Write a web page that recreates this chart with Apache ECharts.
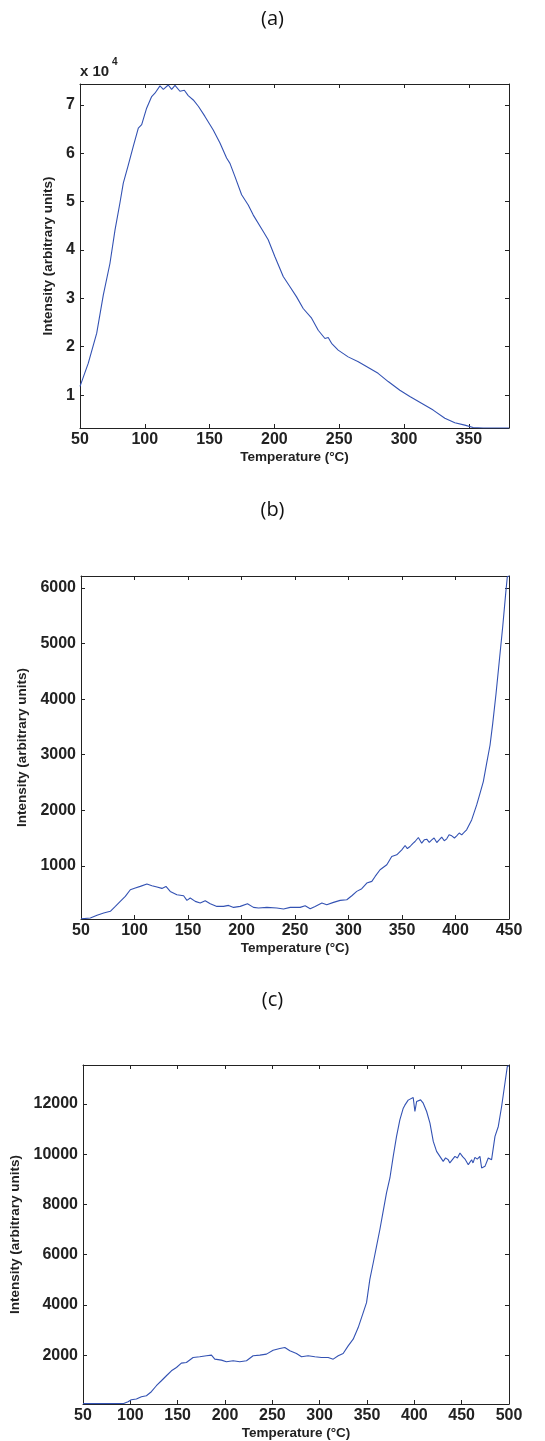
<!DOCTYPE html>
<html>
<head>
<meta charset="utf-8">
<script src="https://cdn.jsdelivr.net/npm/echarts@6/dist/echarts.min.js"></script>
<style>
html,body{margin:0;padding:0;background:#fff;}
#chart{width:545px;height:1441px;}
</style>
</head>
<body>
<div id="chart"></div>
<script>
// ---------- Panel (a) data (intensity in units of 10^4) ----------
const tempA = [50,51.3,56.4,62.9,68,73.1,77,80.8,83.4,87.3,91.1,95,97.6,101.4,105.3,107.8,111.7,114.3,118.1,120.7,123.3,127.1,130.5,133.5,137.4,141.3,146.4,152.8,158,163.1,165.7,169.5,174.7,179.8,183.7,191.4,195.2,200.4,206.8,212,217.1,222.2,228.7,233.8,239,241.5,244.1,249.2,256.9,264.7,273.7,280,287.8,296.8,304.5,313.5,322.5,331.5,339.2,346.9,353.3,361,370,381];
const intensityA = [1.18,1.21,1.66,2.28,3.07,3.72,4.41,4.97,5.38,5.76,6.14,6.52,6.59,6.93,7.17,7.24,7.39,7.32,7.41,7.32,7.40,7.28,7.30,7.19,7.10,6.97,6.76,6.48,6.21,5.90,5.79,5.52,5.14,4.93,4.72,4.38,4.21,3.86,3.45,3.24,3.03,2.79,2.59,2.34,2.17,2.19,2.07,1.93,1.79,1.69,1.55,1.45,1.28,1.10,0.97,0.83,0.69,0.52,0.43,0.38,0.33,0.32,0.32,0.32];
const xTicksA = [50,100,150,200,250,300,350];
const yTicksA = [1,2,3,4,5,6,7];

// ---------- Panel (b) data ----------
const tempB = [50,51,58.7,65,71.2,77.4,82.1,86.7,91.4,96.1,100.7,105.4,111.6,116.3,121,125.6,129.4,133.4,139.6,145.9,149,152.1,156.8,161.4,166.1,170.8,177,183.2,187.9,192.6,198.8,205.6,211.2,215.9,223.7,233,239.3,245.5,254.8,259.5,264.2,268.8,275.1,279.7,286,292.2,298.4,303.1,307.7,312.4,317.1,321.8,324.9,329.5,335.8,340.4,345.1,349.8,352.9,355,357.5,360,362.2,365.3,368.4,371,373.1,375.5,377.8,380,382.5,385,387.1,389.5,391.8,394,396.5,399,401.1,403.5,405.8,408,410.4,415.1,419.8,422.9,426,429.1,432.3,434.8,437.9,441,444.1,446.9,448.4,450];
const intensityB = [45,54,60,108,150,180,270,360,449,569,599,629,671,641,617,593,629,539,479,461,377,419,359,329,371,317,269,269,287,251,269,317,251,239,251,239,222,251,251,281,228,269,329,299,341,377,389,461,539,587,689,719,808,928,1018,1168,1198,1287,1365,1310,1347,1400,1437,1509,1407,1470,1479,1420,1467,1500,1419,1470,1515,1450,1485,1560,1539,1500,1539,1590,1557,1600,1647,1826,2096,2305,2515,2844,3174,3563,4102,4700,5299,5898,6198,6220];
const xTicksB = [50,100,150,200,250,300,350,400,450];
const yTicksB = [1000,2000,3000,4000,5000,6000];

// ---------- Panel (c) data ----------
const tempC = [50,70,93,94,97.6,101,106.4,111.7,117,122.2,127.5,132.8,138.1,143.4,148.7,153.9,159.2,166.3,173.3,180.4,185.7,189.2,196.2,201.5,208.6,215.6,222.7,229.7,236.8,243.8,250.8,257.9,263.2,268.5,275.5,280.8,287.8,294.9,301.9,309,314.3,319.6,324.8,330.1,335.4,340.7,346,349.5,353,356.6,360.1,363.6,367.1,370.6,374.2,377.7,381.2,384.7,388.3,390,391.8,393.5,395.3,398.8,400.6,402.4,406.6,409.4,413,416.5,420,423.5,427,430.5,433,435.8,437.5,439.4,442.9,445.5,448.2,451,453.5,457,460.5,462,464,466.5,469.3,471.1,474.6,478.1,481.6,485.2,488.7,492.2,495.7,498.2,500];
const intensityC = [70,70,75,121,148,227,254,346,386,545,783,981,1180,1378,1510,1682,1709,1907,1934,1974,2000,1841,1802,1735,1775,1735,1775,1974,2000,2040,2198,2265,2304,2172,2066,1934,1974,1934,1907,1907,1841,1974,2066,2370,2635,3098,3693,4090,5016,5678,6339,7001,7729,8456,9052,9912,10705,11367,11830,11950,11896,12150,12094,12253,11698,12094,12160,12028,11698,11235,10507,10110,9912,9713,9850,9779,9650,9581,9912,9850,10044,9900,9806,9581,9779,9650,9872,9800,9912,9449,9515,9846,9779,10705,11102,11896,12822,13484,13520];
const xTicksC = [50,100,150,200,250,300,350,400,450,500];
const yTicksC = [2000,4000,6000,8000,10000,12000];

const xName = 'Temperature (°C)';
const yName = 'Intensity (arbitrary units)';
const panelTitles = ['(a)','(b)','(c)'];

// ---------- Chart ----------
const chart = echarts.init(document.getElementById('chart'), null, {renderer:'canvas'});
const axisColor = '#222';
const lineColor = '#3352b3';
const labelFont = {fontFamily:'Liberation Sans, Arial, sans-serif', fontWeight:'bold', fontSize:16, color:'#222'};
const nameFont = {fontFamily:'Liberation Sans, Arial, sans-serif', fontWeight:'bold', fontSize:13.5, color:'#222'};

const panels = [
  {x:tempA, y:intensityA, xt:xTicksA, yt:yTicksA, xmin:50, xmax:381, ymin:0.32, ymax:7.43,
   grid:{left:80, top:84, width:429, height:344}, yGap:15.5},
  {x:tempB, y:intensityB, xt:xTicksB, yt:yTicksB, xmin:50, xmax:450, ymin:42, ymax:6216,
   grid:{left:81, top:576, width:428, height:343}, yGap:46.5},
  {x:tempC, y:intensityC, xt:xTicksC, yt:yTicksC, xmin:50, xmax:500, ymin:56, ymax:13548,
   grid:{left:83, top:1065, width:426, height:340}, yGap:54}
];

const grids=[], xAxes=[], yAxes=[], series=[];
panels.forEach((p,i)=>{
  grids.push(Object.assign({containLabel:false}, p.grid));
  const baseX = {type:'value', gridIndex:i, min:p.xmin, max:p.xmax,
    axisLine:{show:true, onZero:false, lineStyle:{color:axisColor, width:1}},
    splitLine:{show:false}};
  xAxes.push(Object.assign({}, baseX, {position:'bottom',
    axisTick:{show:true, inside:true, length:4, customValues:p.xt, lineStyle:{color:axisColor}},
    axisLabel:Object.assign({show:true, margin:4, customValues:p.xt, formatter:v=>String(v)}, labelFont),
    name:xName, nameLocation:'middle', nameGap:22, nameTextStyle:nameFont}));
  xAxes.push(Object.assign({}, baseX, {position:'top',
    axisTick:{show:true, inside:true, length:4, customValues:p.xt, lineStyle:{color:axisColor}},
    axisLabel:{show:false}}));
  const baseY = {type:'value', gridIndex:i, min:p.ymin, max:p.ymax,
    axisLine:{show:true, onZero:false, lineStyle:{color:axisColor, width:1}},
    splitLine:{show:false}};
  yAxes.push(Object.assign({}, baseY, {position:'left',
    axisTick:{show:true, inside:true, length:4, customValues:p.yt, lineStyle:{color:axisColor}},
    axisLabel:Object.assign({show:true, margin:5, customValues:p.yt, formatter:v=>String(v)}, labelFont),
    name:yName, nameLocation:'middle', nameGap:p.yGap, nameRotate:90, nameTextStyle:nameFont}));
  yAxes.push(Object.assign({}, baseY, {position:'right',
    axisTick:{show:true, inside:true, length:4, customValues:p.yt, lineStyle:{color:axisColor}},
    axisLabel:{show:false}}));
  series.push({type:'line', xAxisIndex:2*i, yAxisIndex:2*i, showSymbol:false, symbol:'none',
    data:p.x.map((t,k)=>[t,p.y[k]]), lineStyle:{color:lineColor, width:1.1}, itemStyle:{color:lineColor},
    animation:false, clip:true});
});

const titleFont = {fontFamily:'Open Sans, Noto Sans, sans-serif', fontWeight:'normal', fontSize:20, color:'#111'};
chart.setOption({
  animation:false,
  backgroundColor:'#fff',
  title:[
    {text:panelTitles[0], left:'center', top:9, padding:0, textStyle:titleFont},
    {text:panelTitles[1], left:'center', top:500, padding:0, textStyle:titleFont},
    {text:panelTitles[2], left:'center', top:990, padding:0, textStyle:titleFont}
  ],
  graphic:[
    {type:'text', left:80, top:64, style:{text:'x 10', fontFamily:'Liberation Sans, Arial, sans-serif', fontWeight:'bold', fontSize:15, fill:'#222'}},
    {type:'text', left:112, top:57, style:{text:'4', fontFamily:'Liberation Sans, Arial, sans-serif', fontWeight:'bold', fontSize:10, fill:'#222'}}
  ],
  grid:grids, xAxis:xAxes, yAxis:yAxes, series:series
});
</script>
</body>
</html>
